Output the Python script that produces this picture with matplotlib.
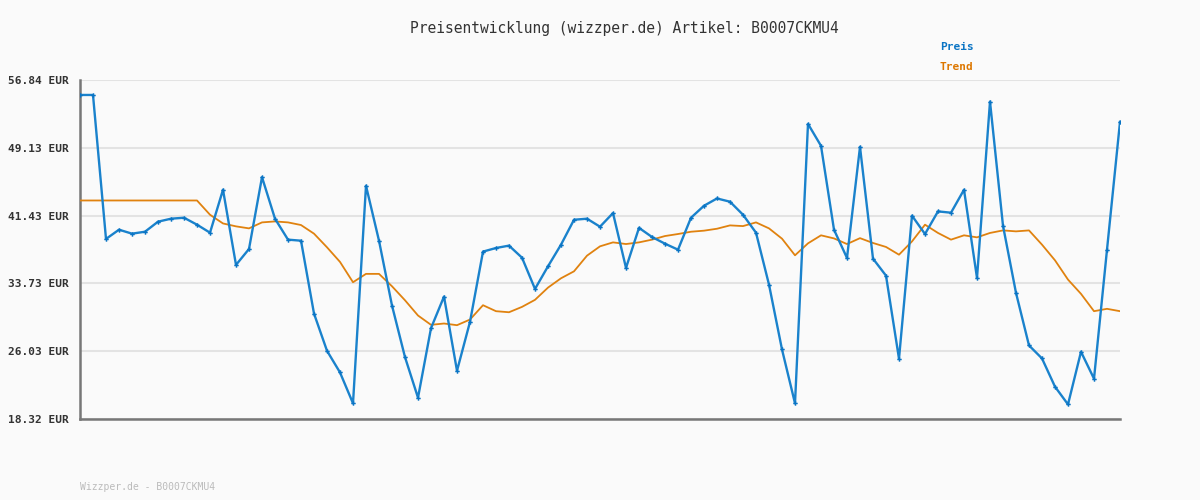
import numpy as np
import matplotlib.pyplot as plt

# price history (EUR), one point per step
preis = [55.14, 55.14, 38.78, 39.83, 39.38, 39.60, 40.74, 41.08, 41.19, 40.40,
         39.49, 44.37, 35.83, 37.64, 45.80, 41.08, 38.70, 38.58, 30.30, 26.07,
         23.61, 20.10, 44.82, 38.58, 31.21, 25.35, 20.74, 28.64, 32.23, 23.80,
         29.36, 37.34, 37.75, 38.02, 36.65, 33.10, 35.67, 38.13, 40.96, 41.08,
         40.17, 41.72, 35.49, 40.04, 39.00, 38.24, 37.56, 41.19, 42.55, 43.38,
         43.01, 41.53, 39.49, 33.59, 26.22, 20.10, 51.85, 49.36, 39.83, 36.62,
         49.24, 36.54, 34.61, 25.17, 41.42, 39.34, 41.91, 41.76, 44.37, 34.35,
         54.38, 40.28, 32.65, 26.68, 25.20, 21.99, 19.98, 25.96, 22.90, 37.56,
         52.08]

trend = [43.15, 43.15, 43.15, 43.15, 43.15, 43.15, 43.15, 43.15, 43.15, 43.15,
         41.53, 40.54, 40.21, 39.98, 40.66, 40.77, 40.66, 40.36, 39.38, 37.83,
         36.17, 33.86, 34.81, 34.81, 33.40, 31.81, 30.08, 29.02, 29.17, 28.98,
         29.62, 31.25, 30.57, 30.45, 31.06, 31.86, 33.25, 34.31, 35.10, 36.88,
         37.94, 38.39, 38.20, 38.39, 38.70, 39.11, 39.34, 39.60, 39.72, 39.94,
         40.32, 40.24, 40.66, 39.98, 38.81, 36.92, 38.28, 39.19, 38.84, 38.20,
         38.87, 38.32, 37.87, 36.99, 38.50, 40.40, 39.46, 38.70, 39.19, 38.96,
         39.46, 39.75, 39.64, 39.75, 38.13, 36.35, 34.16, 32.54, 30.57, 30.84,
         30.57]

y_ticks = [18.32, 26.03, 33.73, 41.43, 49.13, 56.84]
artikel = 'B0007CKMU4'

blue = '#1a82cc'
orange = '#e0820f'
bg = '#fafafa'
mono = 'DejaVu Sans Mono'

fig = plt.figure(figsize=(12, 5), dpi=100, facecolor=bg)
ax = fig.add_axes([80/1200, 1 - 419/500, 1040/1200, 339/500])
ax.set_facecolor(bg)

x = np.arange(len(preis))
ax.plot(x, trend, color=orange, lw=1.3, zorder=3)
ax.plot(x, preis, color=blue, lw=1.7, marker='P', markersize=3.2,
        markeredgewidth=0, markerfacecolor='#0a74c4', zorder=4)

ax.set_xlim(0, len(preis) - 1)
ax.set_ylim(y_ticks[0], y_ticks[-1])
ax.set_yticks(y_ticks)
ax.set_yticklabels([f'{v:.2f} EUR' for v in y_ticks], fontfamily=mono,
                   fontsize=8, fontweight='bold', color='#333333')
ax.set_xticks([])
ax.tick_params(axis='y', length=0, pad=8)
ax.grid(axis='y', color='#e3e3e3', lw=1.5, zorder=0)

for s in ['top', 'right']:
    ax.spines[s].set_visible(False)
for s in ['left', 'bottom']:
    ax.spines[s].set_color('#777777')
    ax.spines[s].set_linewidth(1.8)

fig.text(624/1200, 1 - 28/500, f'Preisentwicklung (wizzper.de) Artikel: {artikel}',
         ha='center', va='center', fontfamily=mono, fontsize=10.5, color='#333333')
fig.text(940/1200, 1 - 47/500, 'Preis', ha='left', va='center', fontfamily=mono,
         fontsize=8, fontweight='bold', color='#0a74c4')
fig.text(940/1200, 1 - 67/500, 'Trend', ha='left', va='center', fontfamily=mono,
         fontsize=8, fontweight='bold', color='#dd7700')
fig.text(80/1200, 1 - 487/500, f'Wizzper.de - {artikel}', ha='left', va='center',
         fontfamily=mono, fontsize=7, color='#bbbbbb')

fig.savefig('out.png', dpi=100, facecolor=bg)
